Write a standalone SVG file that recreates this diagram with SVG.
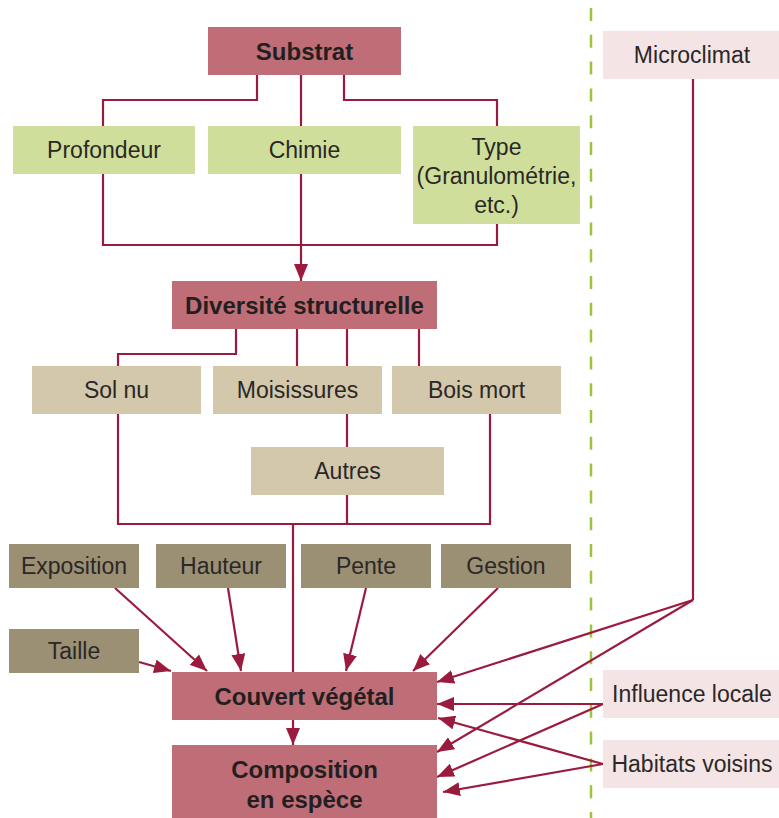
<svg xmlns="http://www.w3.org/2000/svg" width="779" height="818" viewBox="0 0 779 818">
<style>
text{font-family:"Liberation Sans",Arial,sans-serif;font-size:23px;fill:#2A2827;text-anchor:middle;dominant-baseline:central}
.b{font-weight:bold;font-size:24px;fill:#231F20}
.main{fill:#BF6E77}
.green{fill:#CFDF9B}
.beige{fill:#D3C7AC}
.olive{fill:#9B8F74}
.pink{fill:#F4E4E6}
.ln{fill:none;stroke:#9B1B3F;stroke-width:2.2}
.ar{fill:none;stroke:#9B1B3F;stroke-width:2.2;marker-end:url(#ah)}
</style>
<defs>
<marker id="ah" markerUnits="userSpaceOnUse" markerWidth="18" markerHeight="14" refX="17" refY="7" orient="auto">
<path d="M0,0 L17,7 L0,14 Z" fill="#9B1B3F"/>
</marker>
</defs>
<line x1="591" y1="8" x2="591" y2="818" stroke="#9BC53D" stroke-width="2.5" stroke-dasharray="13 13.8"/>
<g id="connectors">
<path class="ln" d="M257,75 V100 H103 V126"/>
<path class="ln" d="M301,75 V126"/>
<path class="ln" d="M344,75 V100 H497 V126"/>
<path class="ln" d="M103,174 V245 H497 V224"/>
<path class="ar" d="M301,174 V281"/>
<path class="ln" d="M236,329 V354 H118 V366"/>
<path class="ln" d="M297,329 V366"/>
<path class="ln" d="M347,329 V366"/>
<path class="ln" d="M419,329 V366"/>
<path class="ln" d="M347,414 V447"/>
<path class="ln" d="M118,414 V524 H490 V414"/>
<path class="ln" d="M347,495 V524"/>
<path class="ln" d="M293,524 V672"/>
<path class="ar" d="M293,720 V745"/>
<path class="ar" d="M115,588 L207,671"/>
<path class="ar" d="M228,588 L241,671"/>
<path class="ar" d="M366,588 L346,671"/>
<path class="ar" d="M498,588 L413,671"/>
<path class="ar" d="M139,662 L171,671"/>
<path class="ln" d="M693,79 V600"/>
<path class="ar" d="M693,600 L437,682"/>
<path class="ar" d="M693,600 L437,752"/>
<path class="ar" d="M603,704 L437,704"/>
<path class="ar" d="M603,704 L437,777"/>
<path class="ar" d="M603,764 L438,718"/>
<path class="ar" d="M603,764 L443,792"/>
</g>
<g id="substrat"><rect class="main" x="208" y="27" width="193" height="48"/><text class="b" x="304.5" y="51">Substrat</text></g>
<g id="profondeur"><rect class="green" x="13" y="126" width="182" height="48"/><text x="104" y="150">Profondeur</text></g>
<g id="chimie"><rect class="green" x="208" y="126" width="193" height="48"/><text x="304.5" y="150">Chimie</text></g>
<g id="type"><rect class="green" x="413" y="126" width="167" height="98"/><text x="496.5" y="147">Type</text><text x="496.5" y="176">(Granulométrie,</text><text x="496.5" y="205">etc.)</text></g>
<g id="microclimat"><rect class="pink" x="603" y="31" width="176" height="48"/><text x="692" y="55">Microclimat</text></g>
<g id="diversite"><rect class="main" x="172" y="281" width="265" height="48"/><text class="b" x="304.5" y="305">Diversité structurelle</text></g>
<g id="solnu"><rect class="beige" x="32" y="366" width="169" height="48"/><text x="116.5" y="390">Sol nu</text></g>
<g id="moisissures"><rect class="beige" x="213" y="366" width="169" height="48"/><text x="297.5" y="390">Moisissures</text></g>
<g id="boismort"><rect class="beige" x="392" y="366" width="169" height="48"/><text x="476.5" y="390">Bois mort</text></g>
<g id="autres"><rect class="beige" x="251" y="447" width="193" height="48"/><text x="347.5" y="471">Autres</text></g>
<g id="exposition"><rect class="olive" x="9" y="544" width="130" height="44"/><text x="74" y="566">Exposition</text></g>
<g id="hauteur"><rect class="olive" x="156" y="544" width="130" height="44"/><text x="221" y="566">Hauteur</text></g>
<g id="pente"><rect class="olive" x="301" y="544" width="130" height="44"/><text x="366" y="566">Pente</text></g>
<g id="gestion"><rect class="olive" x="441" y="544" width="130" height="44"/><text x="506" y="566">Gestion</text></g>
<g id="taille"><rect class="olive" x="9" y="629" width="130" height="44"/><text x="74" y="651">Taille</text></g>
<g id="couvert"><rect class="main" x="172" y="672" width="265" height="48"/><text class="b" x="304.5" y="696">Couvert végétal</text></g>
<g id="composition"><rect class="main" x="172" y="745" width="265" height="73"/><text class="b" x="304.5" y="769">Composition</text><text class="b" x="304.5" y="799">en espèce</text></g>
<g id="influence"><rect class="pink" x="603" y="670" width="176" height="48"/><text x="692" y="694">Influence locale</text></g>
<g id="habitats"><rect class="pink" x="603" y="740" width="176" height="48"/><text x="692" y="764">Habitats voisins</text></g>
</svg>
